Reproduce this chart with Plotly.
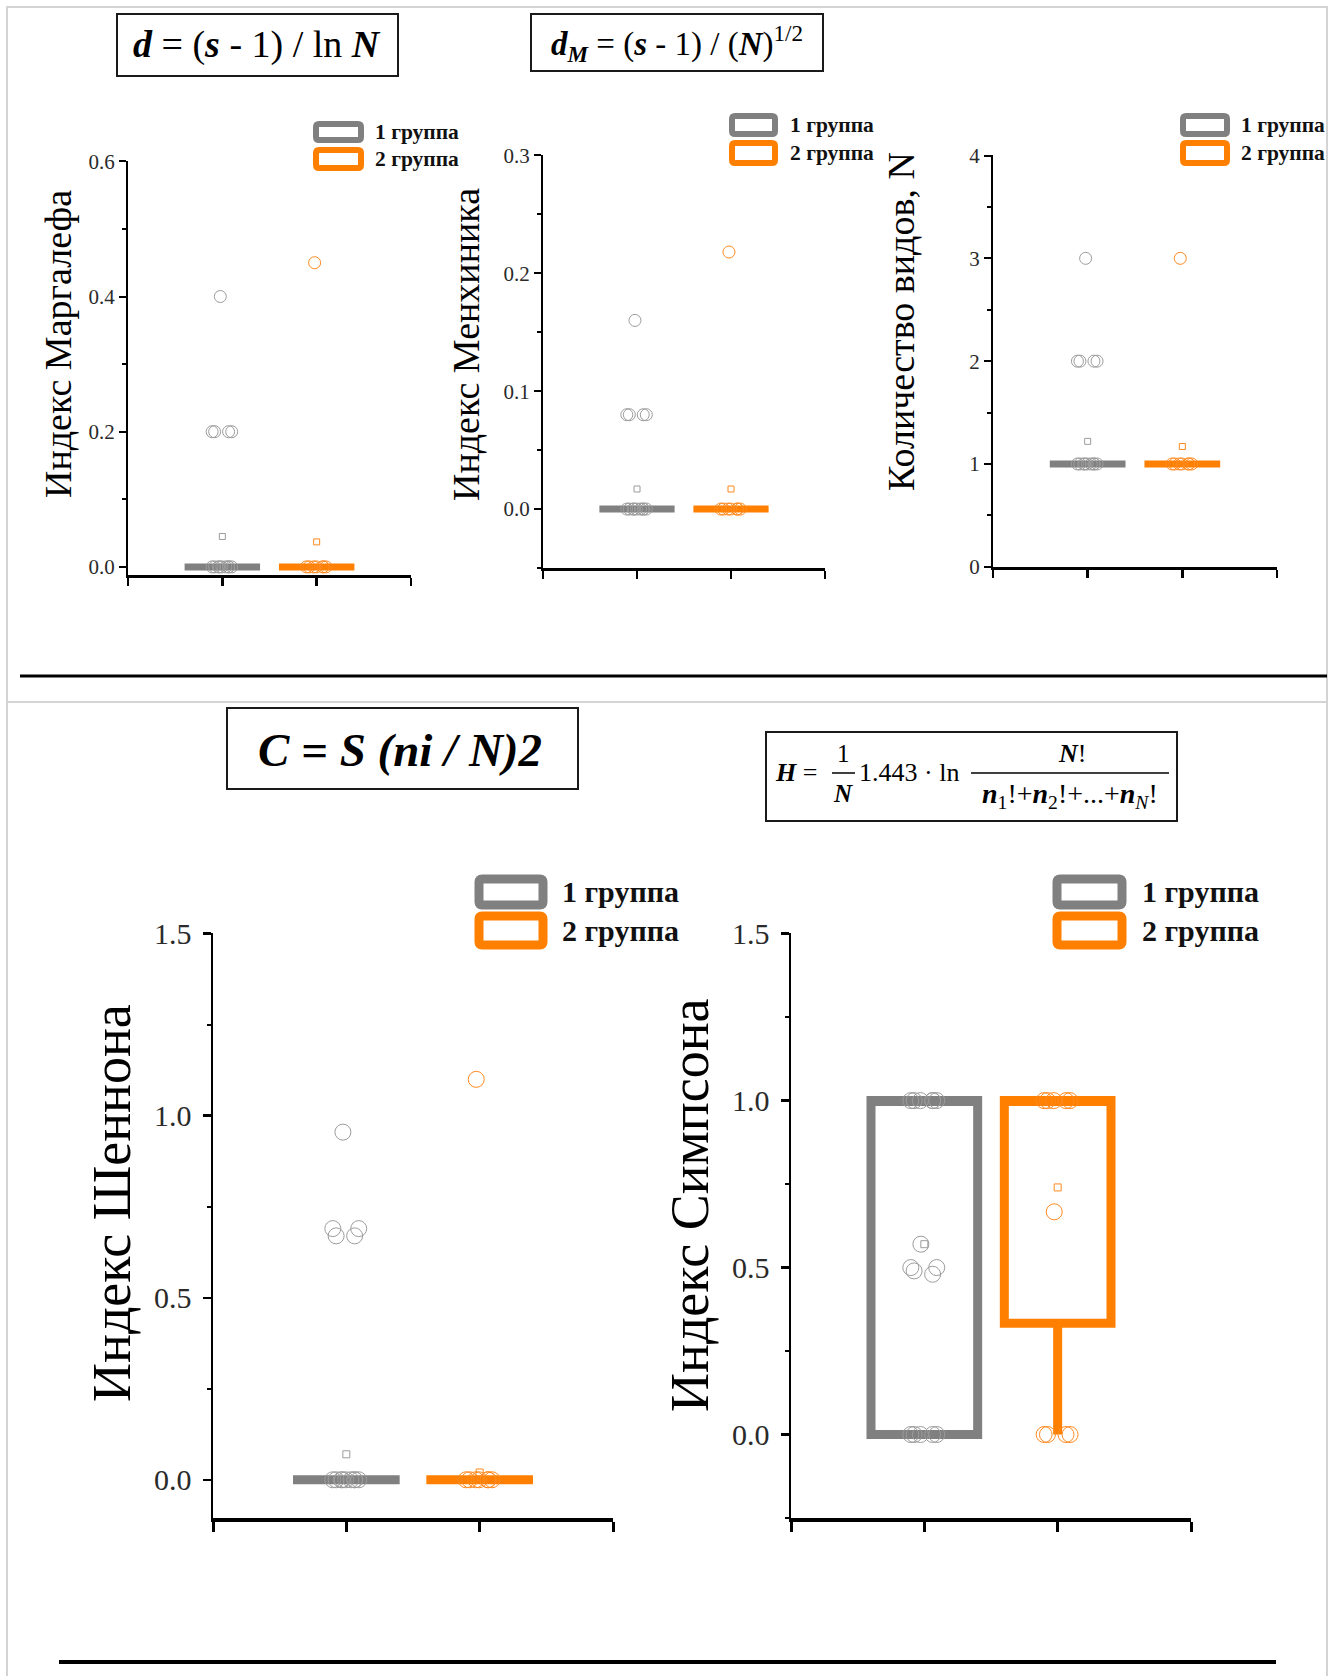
import plotly.graph_objects as go

W, H = 1344, 1676
FONT = "Liberation Serif"
GRAY_BOX = "#808080"
GRAY_PT = "#9c9c9c"
ORANGE = "#ff8000"
ORANGE_PT = "#ff8a1f"

groups = ["1 группа", "2 группа"]
group_pos = [1, 2]

# ---------------- data ----------------
margalef_g1 = [0.4, 0.2, 0.2, 0.2, 0.2, 0, 0, 0, 0, 0, 0, 0, 0, 0]
margalef_g2 = [0.45, 0, 0, 0, 0, 0, 0, 0]
margalef_mean = [0.045, 0.037]
margalef_q1 = [0, 0]
margalef_med = [0, 0]
margalef_q3 = [0, 0]
margalef_lo = [0, 0]
margalef_hi = [0, 0]

menhinick_g1 = [0.16, 0.08, 0.08, 0.08, 0.08, 0, 0, 0, 0, 0, 0, 0, 0, 0]
menhinick_g2 = [0.218, 0, 0, 0, 0, 0, 0, 0]
menhinick_mean = [0.017, 0.017]
menhinick_q1 = [0, 0]
menhinick_med = [0, 0]
menhinick_q3 = [0, 0]
menhinick_lo = [0, 0]
menhinick_hi = [0, 0]

species_g1 = [3, 2, 2, 2, 2, 1, 1, 1, 1, 1, 1, 1, 1, 1]
species_g2 = [3, 1, 1, 1, 1, 1, 1, 1]
species_mean = [1.22, 1.17]
species_q1 = [1, 1]
species_med = [1, 1]
species_q3 = [1, 1]
species_lo = [1, 1]
species_hi = [1, 1]

shannon_g1 = [0.955, 0.69, 0.69, 0.67, 0.67, 0, 0, 0, 0, 0, 0, 0, 0, 0]
shannon_g2 = [1.1, 0, 0, 0, 0, 0, 0, 0]
shannon_mean = [0.07, 0.02]
shannon_q1 = [0, 0]
shannon_med = [0, 0]
shannon_q3 = [0, 0]
shannon_lo = [0, 0]
shannon_hi = [0, 0]

simpson_g1 = [1, 1, 1, 1, 1, 1, 0.57, 0.5, 0.5, 0.49, 0.48, 0, 0, 0, 0, 0]
simpson_g2 = [1, 1, 1, 1, 1, 0.667, 0, 0, 0, 0]
simpson_mean = [0.57, 0.74]
simpson_q1 = [0, 0.333]
simpson_med = [1, 1]
simpson_q3 = [1, 1]
simpson_lo = [0, 0]
simpson_hi = [1, 1]

y_titles = ["Индекс Маргалефа", "Индекс Менхиника", "Количество видов, N",
            "Индекс Шеннона", "Индекс Симпсона"]
y_ranges = [[-0.012, 0.6005], [-0.05, 0.3003], [-0.002, 4.005],
            [-0.105, 1.502], [-0.25, 1.502]]
y_dticks = [0.2, 0.1, 1, 0.5, 0.5]
y_minor = [0.1, 0.05, 0.5, 0.25, 0.25]
y_formats = [".1f", ".1f", "d", ".1f", ".1f"]

panels_data = [
    (margalef_g1, margalef_g2, margalef_mean, margalef_q1, margalef_med, margalef_q3, margalef_lo, margalef_hi),
    (menhinick_g1, menhinick_g2, menhinick_mean, menhinick_q1, menhinick_med, menhinick_q3, menhinick_lo, menhinick_hi),
    (species_g1, species_g2, species_mean, species_q1, species_med, species_q3, species_lo, species_hi),
    (shannon_g1, shannon_g2, shannon_mean, shannon_q1, shannon_med, shannon_q3, shannon_lo, shannon_hi),
    (simpson_g1, simpson_g2, simpson_mean, simpson_q1, simpson_med, simpson_q3, simpson_lo, simpson_hi),
]

# ---------------- geometry (pixels) ----------------
# plot areas: x0, x1, ytop, ybottom
geom = [(128, 411, 161, 575), (543, 825, 155, 568), (993, 1277, 155, 567),
        (213, 613, 933, 1518), (791, 1191, 933, 1518)]
big = [False, False, False, True, True]
title_pos = [(58, 344), (466, 345), (901, 322), (112, 1203), (690, 1205)]
legend_geom = [(316, 361, 124, 140, 150, 168, 373, 6, 21.5),
               (732, 775, 116, 134, 143, 163, 788, 6, 21.5),
               (1183, 1227, 116, 134, 143, 163, 1239, 6, 21.5),
               (479, 543, 879, 905, 916, 945, 560, 9, 30),
               (1057, 1122, 879, 905, 916, 945, 1140, 9, 30)]


def px(x):
    return x / W


def py(y):
    return 1 - y / H


def clusters(vals, gap):
    """Split the values of one group into runs of (nearly) equal values."""
    out = []
    for v in sorted(vals):
        if out and abs(v - out[-1][-1]) <= gap:
            out[-1].append(v)
        else:
            out.append([v])
    return out


def rounded_rect(x0, y0, x1, y1, r):
    X0, X1 = px(x0), px(x1)
    Y0, Y1 = py(y0), py(y1)
    rx, ry = r / W, r / H
    return (f"M{X0 + rx},{Y0} L{X1 - rx},{Y0} Q{X1},{Y0} {X1},{Y0 - ry} "
            f"L{X1},{Y1 + ry} Q{X1},{Y1} {X1 - rx},{Y1} L{X0 + rx},{Y1} "
            f"Q{X0},{Y1} {X0},{Y1 + ry} L{X0},{Y0 - ry} Q{X0},{Y0} {X0 + rx},{Y0} Z")


fig = go.Figure()
layout = dict(
    width=W, height=H, margin=dict(l=0, r=0, t=0, b=0, pad=0, autoexpand=False),
    paper_bgcolor="white", plot_bgcolor="white", template="none",
    showlegend=False, boxmode="overlay", hovermode=False,
    font=dict(family=FONT, color="black"),
)
shapes = []
annotations = []

for i, (g1, g2, means, q1, med, q3, lo, hi) in enumerate(panels_data):
    n = i + 1
    xa = "x" if n == 1 else f"x{n}"
    ya = "y" if n == 1 else f"y{n}"
    x0, x1, yt, yb = geom[i]
    isbig = big[i]
    box_lw = 9 if isbig else 7
    pt_size = 16 if isbig else 12
    sq_size = 7 if isbig else 6
    gap = 0.03 * (y_ranges[i][1] - y_ranges[i][0])

    # boxes from summary statistics
    for k, col in enumerate([GRAY_BOX, ORANGE]):
        fig.add_trace(go.Box(
            x=[group_pos[k]], q1=[q1[k]], median=[med[k]], q3=[q3[k]],
            lowerfence=[lo[k]], upperfence=[hi[k]], orientation="v",
            width=0.8, whiskerwidth=0, boxpoints=False,
            line=dict(color=col, width=box_lw), fillcolor="rgba(255,255,255,0)",
            xaxis=xa, yaxis=ya, name=groups[k]))

    # individual points (each run of equal values jittered on its own)
    for k, (vals, col) in enumerate([(g1, GRAY_PT), (g2, ORANGE_PT)]):
        for run in clusters(vals, gap):
            fig.add_trace(go.Box(
                x=[group_pos[k]] * len(run), y=run, orientation="v",
                boxpoints="all", jitter=0.3 if isbig else 0.32,
                pointpos=-0.22 if len(run) == 1 else 0, width=0.8,
                line=dict(width=0, color="rgba(0,0,0,0)"), fillcolor="rgba(0,0,0,0)",
                marker=dict(symbol="circle-open", size=pt_size, color=col,
                            line=dict(width=1, color=col)),
                xaxis=xa, yaxis=ya, name=groups[k]))

    # means
    fig.add_trace(go.Scatter(
        x=group_pos, y=means, mode="markers",
        marker=dict(symbol="square-open", size=sq_size, color=[GRAY_PT, ORANGE_PT],
                    line=dict(width=1, color=[GRAY_PT, ORANGE_PT])),
        xaxis=xa, yaxis=ya))

    tick_fs = 30 if isbig else 21
    layout["xaxis" if n == 1 else f"xaxis{n}"] = dict(
        domain=[px(x0), px(x1)], anchor=ya, range=[0, 3], automargin=False,
        tickmode="array", tickvals=[0, 1, 2, 3], showticklabels=False,
        ticks="outside", ticklen=10 if isbig else 8, tickwidth=3 if isbig else 2.5,
        tickcolor="black", showline=True, linecolor="black",
        linewidth=4 if isbig else 3, showgrid=False, zeroline=False, fixedrange=True)
    layout["yaxis" if n == 1 else f"yaxis{n}"] = dict(
        domain=[py(yb), py(yt)], anchor=xa, range=y_ranges[i], automargin=False,
        tick0=0, dtick=y_dticks[i], tickformat=y_formats[i],
        ticks="outside", ticklen=8 if isbig else 7, tickwidth=2.5 if isbig else 2,
        tickcolor="black", showline=True, linecolor="black",
        linewidth=2.5 if isbig else 2, showgrid=False, zeroline=False,
        ticklabelstandoff=5 if isbig else 0,
        minor=dict(dtick=y_minor[i], tick0=0, ticks="outside", ticklen=4,
                   tickwidth=2, tickcolor="black", showgrid=False),
        tickfont=dict(family=FONT, size=tick_fs, color="#2a2a2a"), fixedrange=True)

    # y title
    tx, ty = title_pos[i]
    annotations.append(dict(
        x=px(tx), y=py(ty), xref="paper", yref="paper", text=y_titles[i],
        textangle=-90, showarrow=False, xanchor="center", yanchor="middle",
        font=dict(family=FONT, size=54 if isbig else 38, color="black")))

    # legend
    lx0, lx1, gy0, gy1, oy0, oy1, ltx, lsw, lfs = legend_geom[i]
    for (yy0, yy1, col, label) in [(gy0, gy1, GRAY_BOX, groups[0]), (oy0, oy1, ORANGE, groups[1])]:
        shapes.append(dict(type="path", xref="paper", yref="paper",
                           path=rounded_rect(lx0, yy0, lx1, yy1, 3),
                           line=dict(color=col, width=lsw), fillcolor="white"))
        annotations.append(dict(
            x=px(ltx), y=py((yy0 + yy1) / 2), xref="paper", yref="paper",
            text=f"<b>{label}</b>", showarrow=False, xanchor="left", yanchor="middle",
            font=dict(family=FONT, size=lfs, color="#111")))

# ---------------- frames and separators ----------------
shapes += [
    dict(type="rect", xref="paper", yref="paper", x0=px(7), x1=px(1327), y0=py(702), y1=py(7),
         line=dict(color="#d4d4d4", width=2)),
    dict(type="rect", xref="paper", yref="paper", x0=px(7), x1=px(1327), y0=py(1700), y1=py(702),
         line=dict(color="#d4d4d4", width=2)),
    dict(type="line", xref="paper", yref="paper", x0=px(20), x1=px(1327), y0=py(676), y1=py(676),
         line=dict(color="black", width=3)),
    dict(type="line", xref="paper", yref="paper", x0=px(59), x1=px(1276), y0=py(1662), y1=py(1662),
         line=dict(color="black", width=4)),
]

# formula boxes
formula_boxes = [(117, 398, 14, 76), (531, 823, 14, 71), (227, 578, 708, 789), (766, 1177, 732, 821)]
for (bx0, bx1, by0, by1) in formula_boxes:
    shapes.append(dict(type="rect", xref="paper", yref="paper",
                       x0=px(bx0), x1=px(bx1), y0=py(by1), y1=py(by0),
                       line=dict(color="#1a1a1a", width=2)))


def ann(x, y, text, size, anchor="center", color="black"):
    annotations.append(dict(x=px(x), y=py(y), xref="paper", yref="paper", text=text,
                            showarrow=False, xanchor=anchor, yanchor="middle",
                            font=dict(family=FONT, size=size, color=color)))


ann(257, 45, "<b><i>d</i></b> = (<b><i>s</i></b> - 1) / ln <b><i>N</i></b>", 38)
ann(677, 43, "<b><i>d<sub>M</sub></i></b> = (<b><i>s</i></b> - 1) / (<b><i>N</i></b>)<sup>1/2</sup>", 33)
ann(400, 750, "<b><i>C = S (ni / N)2</i></b>", 47)

# Shannon formula
ann(773, 772, "<b><i>H</i></b> =", 26, anchor="left")
ann(843, 754, "1", 25)
ann(843, 793, "<b><i>N</i></b>", 25)
shapes.append(dict(type="line", xref="paper", yref="paper", x0=px(832), x1=px(855),
                   y0=py(773), y1=py(773), line=dict(color="black", width=1.5)))
ann(857, 772, "1.443 · ln", 26, anchor="left")
shapes.append(dict(type="line", xref="paper", yref="paper", x0=px(971), x1=px(1169),
                   y0=py(773), y1=py(773), line=dict(color="black", width=1.5)))
ann(1072, 754, "<b><i>N</i></b>!", 26)
ann(1070, 795, "<b><i>n</i></b><sub>1</sub>!+<b><i>n</i></b><sub>2</sub>!+...+<b><i>n</i></b><sub><i>N</i></sub>!", 28)

layout["shapes"] = shapes
layout["annotations"] = annotations
fig.update_layout(**layout)

fig.write_html("out.html", config={"displayModeBar": False, "staticPlot": True},
               post_script="document.body.style.margin='0';document.body.style.overflow='hidden';")
